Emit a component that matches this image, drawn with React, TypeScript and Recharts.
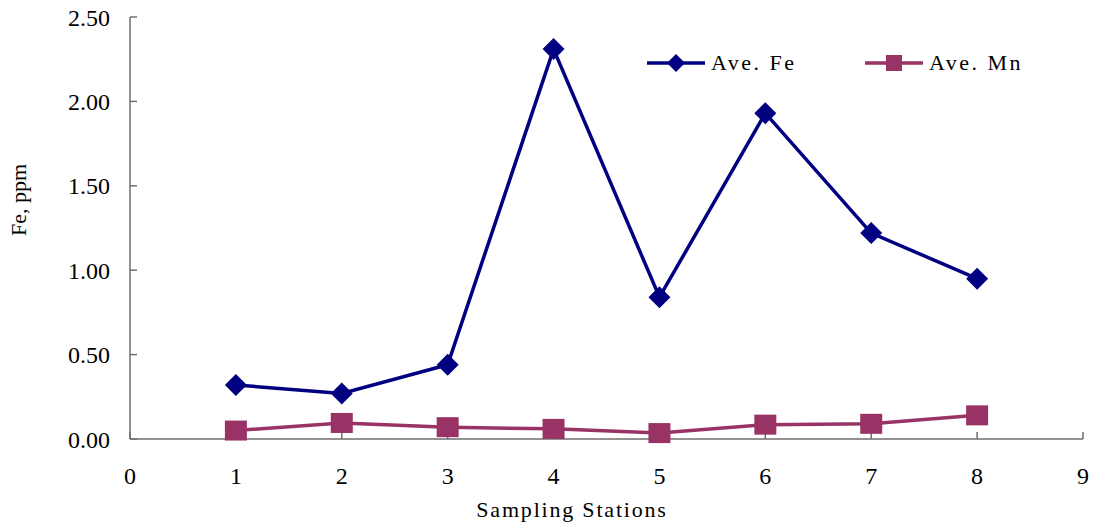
import React from 'react';
import { LineChart, Line, XAxis, YAxis } from 'recharts';

const stations = [1, 2, 3, 4, 5, 6, 7, 8];
const aveFe = [0.32, 0.27, 0.44, 2.31, 0.84, 1.93, 1.22, 0.95];
const aveMn = [0.05, 0.095, 0.07, 0.06, 0.035, 0.085, 0.09, 0.14];
const xTicks = [0, 1, 2, 3, 4, 5, 6, 7, 8, 9];
const yTicks = [0, 0.5, 1, 1.5, 2, 2.5];
const seriesNames = ['Ave. Fe', 'Ave. Mn'];

const data = stations.map((s, i) => ({ station: s, fe: aveFe[i], mn: aveMn[i] }));

const FE_COLOR = '#000080';
const MN_COLOR = '#993366';
const AXIS_COLOR = '#6e6e6e';
const FONT = 'Times New Roman, Liberation Serif, DejaVu Serif, serif';

const Diamond = (props: any) => {
  const { cx, cy, fill } = props;
  if (cx == null || cy == null) return null;
  const r = 11;
  return <path d={`M${cx},${cy - r}L${cx + r},${cy}L${cx},${cy + r}L${cx - r},${cy}Z`} fill={fill} />;
};

const Square = (props: any) => {
  const { cx, cy, fill } = props;
  if (cx == null || cy == null) return null;
  return <rect x={cx - 11} y={cy - 10} width={22} height={20} fill={fill} />;
};

const LegendItem = ({ left, color, label, shape }: { left: number; color: string; label: string; shape: 'd' | 's' }) => (
  <div style={{ position: 'absolute', left, top: 0, display: 'flex', alignItems: 'center', height: 24 }}>
    <svg width={60} height={24} style={{ display: 'block' }}>
      <line x1={1} y1={12} x2={59} y2={12} stroke={color} strokeWidth={3.5} />
      {shape === 'd' ? (
        <path d="M30,3L39,12L30,21L21,12Z" fill={color} />
      ) : (
        <rect x={22} y={4} width={16} height={16} fill={color} />
      )}
    </svg>
    <span style={{ fontFamily: FONT, fontSize: 22, letterSpacing: 2.5, marginLeft: 5, color: '#000', whiteSpace: 'nowrap' }}>{label}</span>
  </div>
);

export default function App() {
  return (
    <div style={{ position: 'absolute', left: 0, top: 0, width: 1096, height: 526, background: '#fff' }}>
      <LineChart width={1096} height={526} data={data} margin={{ top: 17, right: 13, bottom: 0, left: 0 }}>
        <XAxis
          dataKey="station"
          type="number"
          domain={[0, 9]}
          ticks={xTicks}
          interval={0}
          height={87}
          stroke={AXIS_COLOR}
          strokeWidth={1.5}
          tickSize={-7}
          tickMargin={35}
          tick={{ fill: '#000', fontSize: 24, fontFamily: FONT }}
          label={{
            content: () => (
              <text
                x={572}
                y={509}
                textAnchor="middle"
                dominantBaseline="central"
                style={{ fill: '#000', fontSize: 22, fontFamily: FONT, letterSpacing: 1.8 }}
              >
                Sampling Stations
              </text>
            ),
          }}
        />
        <YAxis
          type="number"
          domain={[0, 2.5]}
          ticks={yTicks}
          interval={0}
          width={130}
          stroke={AXIS_COLOR}
          strokeWidth={1.5}
          tickSize={-7}
          tickMargin={27}
          tickFormatter={(v: number) => v.toFixed(2)}
          tick={{ fill: '#000', fontSize: 24, fontFamily: FONT }}
          label={{
            content: () => (
              <text
                x={18}
                y={200}
                transform="rotate(-90, 18, 200)"
                textAnchor="middle"
                dominantBaseline="central"
                style={{ fill: '#000', fontSize: 22, fontFamily: FONT }}
              >
                Fe, ppm
              </text>
            ),
          }}
        />
        <Line
          type="linear"
          dataKey="fe"
          name={seriesNames[0]}
          stroke={FE_COLOR}
          strokeWidth={3.5}
          dot={<Diamond fill={FE_COLOR} />}
          activeDot={false}
          isAnimationActive={false}
        />
        <Line
          type="linear"
          dataKey="mn"
          name={seriesNames[1]}
          stroke={MN_COLOR}
          strokeWidth={3.5}
          dot={<Square fill={MN_COLOR} />}
          activeDot={false}
          isAnimationActive={false}
        />
      </LineChart>
      <div style={{ position: 'absolute', left: 646, top: 51, width: 420, height: 24 }}>
        <LegendItem left={0} color={FE_COLOR} label={seriesNames[0]} shape="d" />
        <LegendItem left={218} color={MN_COLOR} label={seriesNames[1]} shape="s" />
      </div>
    </div>
  );
}
